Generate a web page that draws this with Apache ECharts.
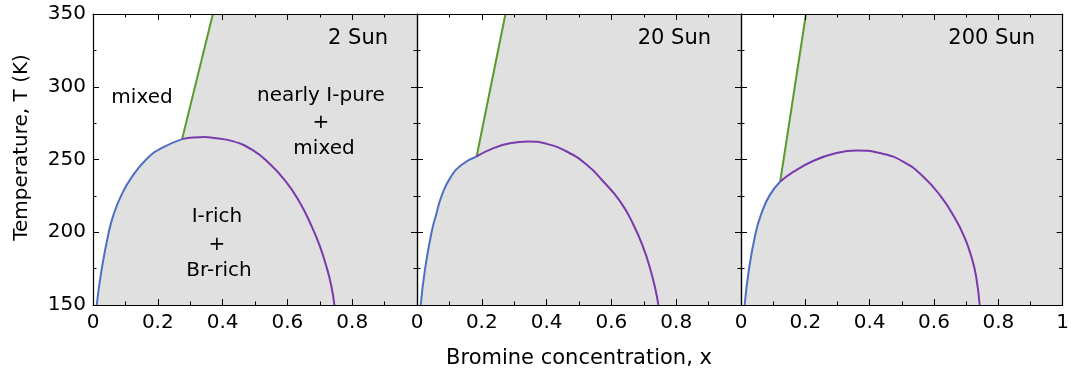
<!DOCTYPE html>
<html>
<head>
<meta charset="utf-8">
<script src="https://cdn.jsdelivr.net/npm/echarts@6/dist/echarts.min.js"></script>
<style>html,body{margin:0;padding:0;background:#fff}#c{width:1072px;height:378px}</style>
</head>
<body>
<div id="c"></div>
<script>
// ---- data ----
const panelNames = ['2 Sun', '20 Sun', '200 Sun'];

// 2 Sun
const blue2X   = [0.0114, 0.027, 0.0485, 0.063, 0.0865, 0.117, 0.164, 0.210, 0.275];
const blue2T   = [150, 175, 200, 211.8, 225, 237, 250, 257.6, 264.0];
const purple2X = [0.275, 0.310, 0.345, 0.369, 0.431, 0.493, 0.544, 0.596, 0.637, 0.673, 0.699, 0.719, 0.735, 0.745];
const purple2T = [264.0, 265.2, 265.4, 264.9, 262.6, 256.4, 247.3, 234.7, 221, 205, 191.2, 177.5, 163.7, 150];
const green2X  = [0.275, 0.370];
const green2T  = [264.0, 350];

// 20 Sun
const blue20X   = [0.0114, 0.025, 0.045, 0.059, 0.076, 0.102, 0.138, 0.184];
const blue20T   = [150, 175, 200, 212, 225, 237.2, 246.4, 252.1];
const purple20X = [0.184, 0.236, 0.287, 0.344, 0.400, 0.462, 0.524, 0.575, 0.627, 0.668, 0.699, 0.719, 0.735, 0.745];
const purple20T = [252.1, 257.8, 261.2, 262.4, 260.8, 255.5, 246.4, 234.9, 221.2, 205.2, 189.1, 175.4, 161.7, 150];
const green20X  = [0.184, 0.273];
const green20T  = [252.1, 350];

// 200 Sun
const blue200X   = [0.0114, 0.025, 0.046, 0.062, 0.088, 0.122];
const blue200T   = [150, 175, 200, 212, 225, 234.9];
const purple200X = [0.122, 0.165, 0.221, 0.288, 0.360, 0.432, 0.504, 0.566, 0.620, 0.662, 0.694, 0.716, 0.731, 0.742];
const purple200T = [234.9, 241.8, 248.6, 253.9, 256.2, 254.4, 248.6, 238.3, 225, 210.9, 197, 183.4, 169.6, 150];
const green200X  = [0.122, 0.202];
const green200T  = [234.9, 350];

const xMin = 0, xMax = 1, xStep = 0.2;
const tMin = 150, tMax = 350, tStep = 50;

// ---- build chart ----
const panels = [
  {bx: blue2X, bt: blue2T, px: purple2X, pt: purple2T, gx: green2X, gt: green2T},
  {bx: blue20X, bt: blue20T, px: purple20X, pt: purple20T, gx: green20X, gt: green20T},
  {bx: blue200X, bt: blue200T, px: purple200X, pt: purple200T, gx: green200X, gt: green200T}
];
const zip = (a, b) => a.map((v, i) => [v, b[i]]);
const FONT = '"DejaVu Sans", sans-serif';
const gridLefts = [93, 417, 741];
const GW = 324, GT = 14, GH = 291;

const grids = [], xAxes = [], yAxes = [], series = [];
const tick = {inside: true, length: 6, lineStyle: {color: '#000', width: 1}};
const minor = {show: true, splitNumber: 2, length: 3.5, lineStyle: {color: '#000', width: 1}};
const line = {show: true, onZero: false, lineStyle: {color: '#000', width: 1.2}};

panels.forEach((p, i) => {
  grids.push({left: gridLefts[i], top: GT, width: GW, height: GH, containLabel: false});
});
// bottom x axes
panels.forEach((p, i) => {
  xAxes.push({type: 'value', gridIndex: i, position: 'bottom', min: xMin, max: xMax, interval: xStep, z: 5,
    axisLine: line, axisTick: tick, minorTick: minor, splitLine: {show: false}, minorSplitLine: {show: false},
    axisLabel: {show: true, margin: 8, color: '#000', fontSize: 20, fontFamily: FONT, showMaxLabel: i === 2,
      formatter: v => String(+v.toFixed(1))}});
});
// top x axes
panels.forEach((p, i) => {
  xAxes.push({type: 'value', gridIndex: i, position: 'top', min: xMin, max: xMax, interval: xStep, z: 5,
    axisLine: line, axisTick: tick, minorTick: minor, splitLine: {show: false}, minorSplitLine: {show: false},
    axisLabel: {show: false}});
});
// left y axes
panels.forEach((p, i) => {
  yAxes.push({type: 'value', gridIndex: i, position: 'left', min: tMin, max: tMax, interval: tStep, z: 5,
    axisLine: line, axisTick: tick, minorTick: minor, splitLine: {show: false}, minorSplitLine: {show: false},
    axisLabel: {show: i === 0, margin: 7, color: '#000', fontSize: 20, fontFamily: FONT}});
});
// right y axes
panels.forEach((p, i) => {
  yAxes.push({type: 'value', gridIndex: i, position: 'right', min: tMin, max: tMax, interval: tStep, z: 5,
    axisLine: line, axisTick: tick, minorTick: minor, splitLine: {show: false}, minorSplitLine: {show: false},
    axisLabel: {show: false}});
});

panels.forEach((p, i) => {
  const boundary = zip(p.bx, p.bt).concat([[p.gx[1], p.gt[1]], [xMax, tMax]]);
  series.push({type: 'line', xAxisIndex: i, yAxisIndex: i, data: boundary, symbol: 'none', silent: true,
    lineStyle: {width: 0, opacity: 0}, areaStyle: {color: '#e0e0e0', opacity: 1, origin: 'start'}, z: 1});
  series.push({type: 'line', xAxisIndex: i, yAxisIndex: i, data: zip(p.gx, p.gt), symbol: 'none',
    lineStyle: {color: '#5a9a2d', width: 2}, z: 3});
  series.push({type: 'line', xAxisIndex: i, yAxisIndex: i, data: zip(p.bx, p.bt), symbol: 'none', smooth: 0.5,
    lineStyle: {color: '#4f6fc4', width: 2}, z: 3});
  series.push({type: 'line', xAxisIndex: i, yAxisIndex: i, data: zip(p.px, p.pt), symbol: 'none', smooth: 0.5,
    lineStyle: {color: '#7a3aac', width: 2}, z: 3});
});

const txt = (text, x, y, size, align, rot) => ({
  type: 'text', x: x, y: y, rotation: rot || 0, z: 10,
  style: {text: text, fill: '#000', font: size + 'px ' + FONT, align: align || 'center', verticalAlign: 'middle'}
});

const graphics = [
  txt(panelNames[0], 388, 39, 21, 'right'),
  txt(panelNames[1], 711, 39, 21, 'right'),
  txt(panelNames[2], 1035, 39, 21, 'right'),
  txt('mixed', 142, 98, 20),
  txt('nearly I-pure', 321, 96, 20),
  txt('+', 321, 123, 20),
  txt('mixed', 324, 149, 20),
  txt('I-rich', 217, 217, 20),
  txt('+', 217, 245, 20),
  txt('Br-rich', 219, 271, 20),
  txt('Temperature, T (K)', 22, 147.5, 20, 'center', Math.PI / 2),
  txt('Bromine concentration, x', 579, 359, 21)
];

const chart = echarts.init(document.getElementById('c'), null, {renderer: 'canvas'});
chart.setOption({
  animation: false,
  backgroundColor: '#fff',
  grid: grids,
  xAxis: xAxes,
  yAxis: yAxes,
  series: series,
  graphic: graphics
});
</script>
</body>
</html>
